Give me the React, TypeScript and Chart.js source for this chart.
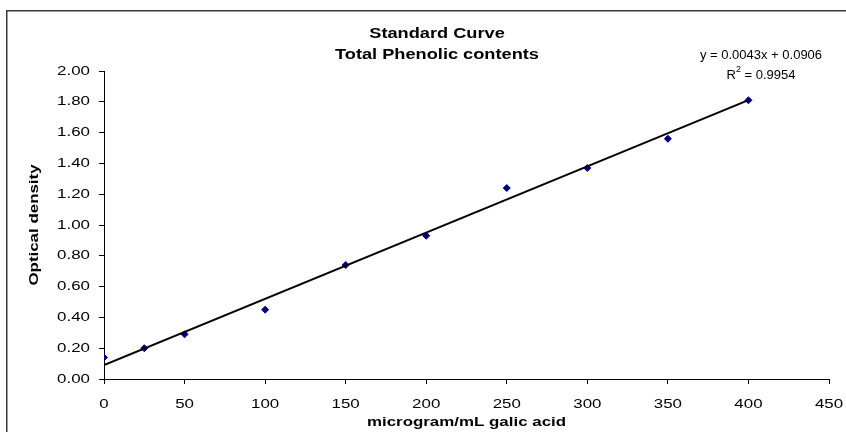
import React, { useEffect, useRef } from "react";
import { Chart, registerables } from "chart.js";

Chart.register(...registerables);

const concentrations = [0, 25, 50, 100, 150, 200, 250, 300, 350, 400];
const opticalDensity = [0.14, 0.2, 0.29, 0.45, 0.74, 0.93, 1.24, 1.37, 1.56, 1.81];
const trendSlope = 0.0043;
const trendIntercept = 0.0906;
const trendRange = [0, 400];
const titleLines = ["Standard Curve", "Total Phenolic contents"];
const equationLines = ["y = 0.0043x + 0.0906", "R² = 0.9954"];
const xAxisTitle = "microgram/mL galic acid";
const yAxisTitle = "Optical density";

const FONT = "'Liberation Sans', Arial, sans-serif";
const TEXT_STRETCH = 1.3;

const overlayPlugin = {
  id: "overlay",
  beforeInit(chart: any) {
    const ctx = chart.ctx;
    const orig = ctx.fillText;
    ctx.__plainFillText = orig;
    ctx.fillText = function (t: string, x: number, y: number, mw?: number) {
      this.save();
      this.translate(x, y);
      this.scale(TEXT_STRETCH, 1);
      if (mw === undefined) orig.call(this, t, 0, 0);
      else orig.call(this, t, 0, 0, mw / TEXT_STRETCH);
      this.restore();
    };
  },
  beforeDraw(chart: any) {
    const ctx = chart.ctx;
    ctx.save();
    ctx.fillStyle = "#ffffff";
    ctx.fillRect(0, 0, chart.width, chart.height);
    ctx.strokeStyle = "#3a3a3a";
    ctx.lineWidth = 1.5;
    ctx.strokeRect(6.75, 10.75, 1000, 1000);
    ctx.restore();
  },
  afterDraw(chart: any) {
    const ctx = chart.ctx;
    const plain = ctx.__plainFillText;
    ctx.save();
    ctx.fillStyle = "#000000";
    ctx.textAlign = "center";
    ctx.textBaseline = "middle";
    ctx.font = `bold 14px ${FONT}`;
    ctx.fillText(titleLines[0], 437, 34);
    ctx.fillText(titleLines[1], 437, 55);
    // equation (not stretched)
    ctx.font = `13px ${FONT}`;
    plain.call(ctx, equationLines[0], 761, 55);
    const base = equationLines[1].replace("²", "");
    const restText = base.slice(1);
    ctx.textAlign = "left";
    const rW = ctx.measureText("R").width;
    const restW = ctx.measureText(restText).width;
    ctx.font = `9px ${FONT}`;
    const supW = ctx.measureText("2").width;
    const total = rW + supW + restW;
    const x0 = 761 - total / 2;
    ctx.font = `13px ${FONT}`;
    plain.call(ctx, "R", x0, 75);
    ctx.font = `9px ${FONT}`;
    plain.call(ctx, "2", x0 + rW, 70);
    ctx.font = `13px ${FONT}`;
    plain.call(ctx, restText, x0 + rW + supW, 75);
    ctx.restore();
  },
};

export default function App() {
  const ref = useRef<HTMLCanvasElement>(null);
  useEffect(() => {
    if (!ref.current) return;
    const points = concentrations.map((x, i) => ({ x, y: opticalDensity[i] }));
    const trend = trendRange.map((x) => ({ x, y: trendSlope * x + trendIntercept }));
    const chart = new Chart(ref.current, {
      type: "scatter",
      data: {
        datasets: [
          {
            type: "line",
            label: "Linear",
            data: trend,
            borderColor: "#000000",
            borderWidth: 2,
            pointRadius: 0,
            fill: false,
          } as any,
          {
            label: "OD",
            data: points,
            backgroundColor: "#000080",
            borderColor: "#000080",
            pointStyle: "rectRot",
            pointRadius: 3.5,
            borderWidth: 1,
          },
        ],
      },
      options: {
        responsive: false,
        animation: false,
        layout: { padding: { left: 0, top: 71, right: 17, bottom: 0 } },
        plugins: {
          legend: { display: false },
          tooltip: { enabled: false },
          title: { display: false },
        },
        scales: {
          x: {
            type: "linear",
            min: 0,
            max: 450,
            afterFit: (s: any) => {
              s.height = 53;
              s.paddingLeft = 0;
              s.paddingRight = 0;
            },
            ticks: {
              stepSize: 50,
              color: "#000000",
              font: { family: FONT, size: 13 },
              padding: 13,
              maxRotation: 0,
            },
            grid: {
              display: true,
              drawOnChartArea: false,
              drawTicks: true,
              tickLength: 5,
              color: "#000000",
            },
            border: { display: true, color: "#000000", width: 1 },
            title: {
              display: true,
              text: xAxisTitle,
              color: "#000000",
              font: { family: FONT, size: 13, weight: "bold" },
              padding: { top: 0, bottom: 2 },
            },
          },
          y: {
            type: "linear",
            min: 0,
            max: 2,
            afterFit: (s: any) => {
              s.width = 104;
              s.paddingTop = 0;
              s.paddingBottom = 0;
            },
            ticks: {
              stepSize: 0.2,
              color: "#000000",
              font: { family: FONT, size: 13 },
              padding: 9,
              callback: (v: any) => Number(v).toFixed(2),
            },
            grid: {
              display: true,
              drawOnChartArea: false,
              drawTicks: true,
              tickLength: 5,
              color: "#000000",
            },
            border: { display: true, color: "#000000", width: 1 },
            title: {
              display: true,
              text: yAxisTitle,
              color: "#000000",
              font: { family: FONT, size: 13, weight: "bold" },
              padding: { top: 27, bottom: 0 },
            },
          },
        },
      },
      plugins: [overlayPlugin],
    });
    return () => chart.destroy();
  }, []);
  return (
    <div style={{ position: "fixed", left: 0, top: 0, width: 846, height: 432, background: "#fff" }}>
      <canvas ref={ref} width={846} height={432} />
    </div>
  );
}
